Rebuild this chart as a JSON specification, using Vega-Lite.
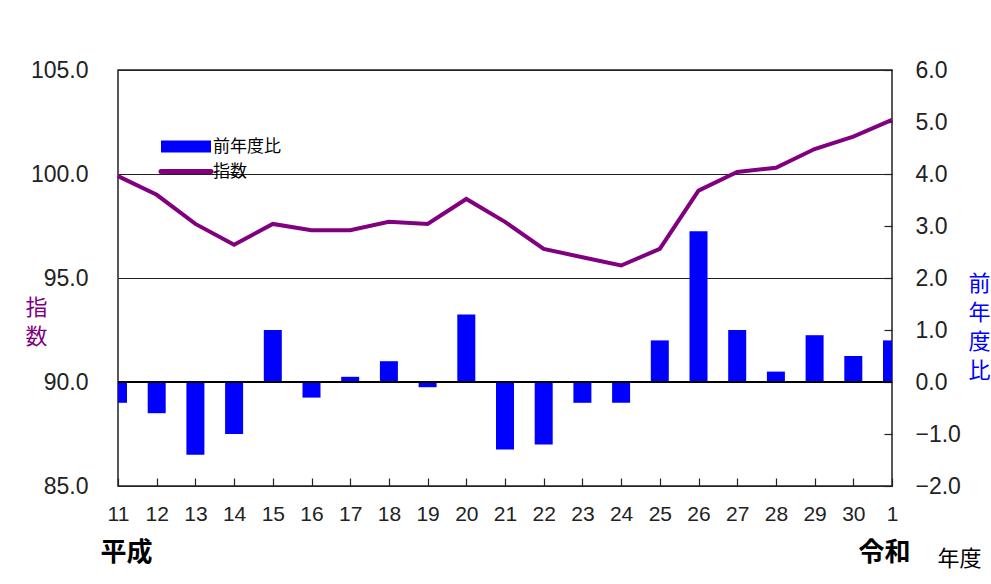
{
  "$schema": "https://vega.github.io/schema/vega-lite/v6.json",
  "width": 774,
  "height": 416,
  "autosize": {"type": "none"},
  "padding": {"left": 118, "top": 70, "right": 99, "bottom": 98},
  "background": "white",
  "config": {
    "view": {"stroke": "#222", "strokeWidth": 1.5},
    "axis": {"domain": false, "labelFont": "Liberation Sans", "labelColor": "#222", "titleFont": "Noto Sans CJK JP"}
  },
  "data": {
    "values": [
      {"year": "11", "idx": 99.9, "yoy": -0.4},
      {"year": "12", "idx": 99.0, "yoy": -0.6},
      {"year": "13", "idx": 97.6, "yoy": -1.4},
      {"year": "14", "idx": 96.6, "yoy": -1.0},
      {"year": "15", "idx": 97.6, "yoy": 1.0},
      {"year": "16", "idx": 97.3, "yoy": -0.3},
      {"year": "17", "idx": 97.3, "yoy": 0.1},
      {"year": "18", "idx": 97.7, "yoy": 0.4},
      {"year": "19", "idx": 97.6, "yoy": -0.1},
      {"year": "20", "idx": 98.8, "yoy": 1.3},
      {"year": "21", "idx": 97.7, "yoy": -1.3},
      {"year": "22", "idx": 96.4, "yoy": -1.2},
      {"year": "23", "idx": 96.0, "yoy": -0.4},
      {"year": "24", "idx": 95.6, "yoy": -0.4},
      {"year": "25", "idx": 96.4, "yoy": 0.8},
      {"year": "26", "idx": 99.2, "yoy": 2.9},
      {"year": "27", "idx": 100.1, "yoy": 1.0},
      {"year": "28", "idx": 100.3, "yoy": 0.2},
      {"year": "29", "idx": 101.2, "yoy": 0.9},
      {"year": "30", "idx": 101.8, "yoy": 0.5},
      {"year": "1", "idx": 102.6, "yoy": 0.8}
    ]
  },
  "layer": [
    {
      "mark": {"type": "bar", "size": 18, "clip": true},
      "encoding": {
        "x": {
          "field": "year", "type": "ordinal", "sort": null,
          "scale": {"type": "point", "padding": 0},
          "axis": {"orient": "bottom", "title": null, "labelAngle": 0, "labelFontSize": 21, "tickSize": -8, "tickColor": "#222", "tickWidth": 1.2, "labelPadding": 25, "labelFlush": false, "labelOverlap": false, "grid": false}
        },
        "y": {
          "field": "yoy", "type": "quantitative",
          "scale": {"domain": [-2, 6], "nice": false, "zero": false},
          "axis": {"orient": "right", "values": [-2, -1, 0, 1, 2, 3, 4, 5, 6], "format": ".1f", "labelFontSize": 23, "tickSize": -8, "tickColor": "#222", "tickWidth": 1.2, "labelPadding": 31, "grid": false,
            "title": ["前", "年", "度", "比"], "titleAngle": 0, "titleColor": "#0000ff", "titleFontSize": 22, "titleFontWeight": "normal", "titleLineHeight": 29.3, "titleAlign": "center", "titleBaseline": "middle", "titleX": 87, "titleY": 213}
        },
        "color": {
          "datum": "前年度比", "type": "nominal",
          "scale": {"domain": ["前年度比", "指数"], "range": ["#0000ff", "#800080"]},
          "legend": {
            "orient": "none", "legendX": 34.5, "legendY": 64, "title": null, "padding": 0,
            "symbolType": "M0,0H20", "symbolSize": 25, "labelFont": "Noto Sans CJK JP", "labelFontSize": 17, "labelColor": "#000", "labelOffset": 43.5, "rowPadding": 0, "clipHeight": 25,
            "encode": {"symbols": {"update": {"stroke": {"scale": "color", "field": "value"}, "strokeWidth": {"signal": "datum.value === '前年度比' ? 12 : 5"}, "strokeCap": {"signal": "datum.value === '前年度比' ? 'butt' : 'round'"}}}}
          }
        }
      }
    },
    {
      "mark": {"type": "rule", "color": "#000", "strokeWidth": 1.5},
      "encoding": {"y": {"datum": 90, "type": "quantitative", "scale": {"domain": [85, 105], "nice": false, "zero": false}, "axis": null}}
    },
    {
      "mark": {"type": "line", "strokeWidth": 4, "strokeJoin": "miter"},
      "encoding": {
        "x": {
          "field": "year", "type": "ordinal", "sort": null,
          "scale": {"type": "point", "padding": 0},
          "axis": {"orient": "bottom", "labelExpr": "datum.value == '11' ? '平成' : (datum.value == '1' ? '令和' : '')", "labelAngle": 0, "labelFont": "Noto Sans CJK JP", "labelFontSize": 26, "labelFontWeight": "bold", "labelColor": "#000", "labelPadding": 53, "ticks": false, "grid": false, "labelFlush": false, "labelOverlap": false,
            "labelOffset": {"condition": {"test": "datum.value == '11'", "value": 8}, "value": -8},
            "title": "年度", "titleFontSize": 22, "titleFontWeight": "normal", "titleColor": "#000", "titleAlign": "left", "titleBaseline": "middle", "titleX": 819, "titleY": 72}
        },
        "y": {
          "field": "idx", "type": "quantitative",
          "scale": {"domain": [85, 105], "nice": false, "zero": false},
          "axis": {"orient": "left", "values": [85, 90, 95, 100, 105], "format": ".1f", "labelFontSize": 23, "ticks": false, "labelPadding": 30, "grid": true, "gridColor": "#222", "gridOpacity": 1,
            "title": ["指", "数"], "titleAngle": 0, "titleColor": "#800080", "titleFontSize": 22, "titleFontWeight": "normal", "titleLineHeight": 29, "titleAlign": "center", "titleBaseline": "middle", "titleX": -82, "titleY": 237}
        },
        "color": {"datum": "指数", "type": "nominal"}
      }
    }
  ],
  "resolve": {"scale": {"y": "independent"}, "axis": {"x": "independent", "y": "independent"}}
}
